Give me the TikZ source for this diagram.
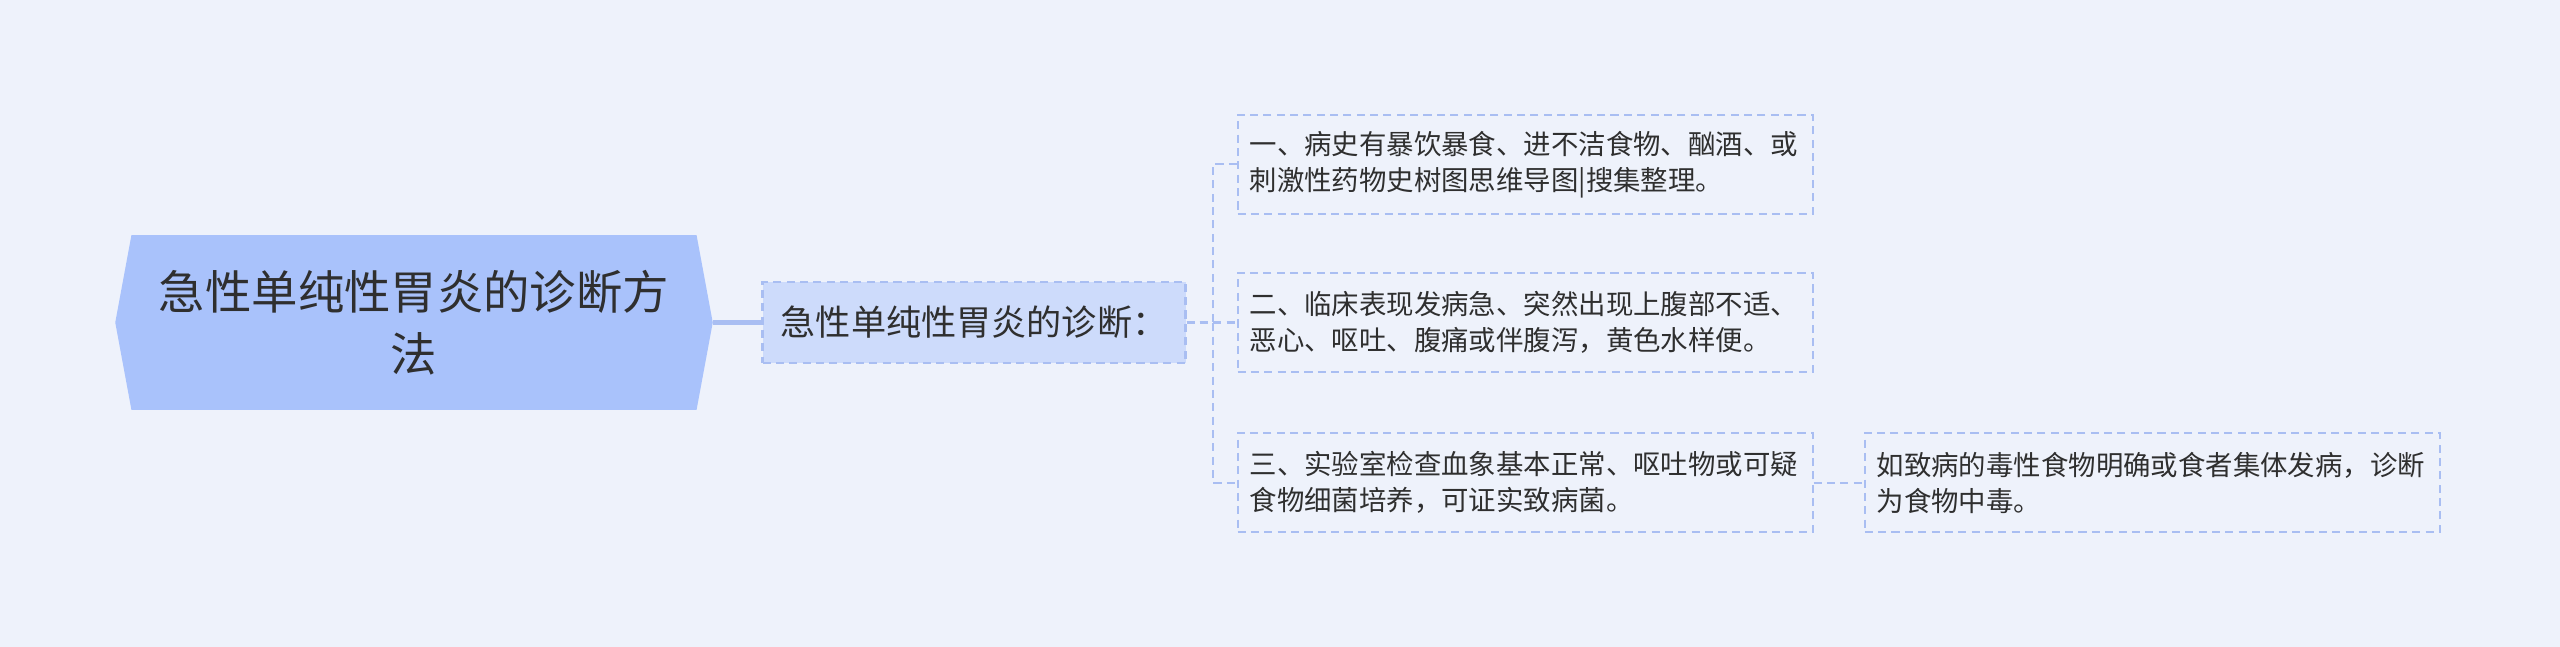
\documentclass[tikz,border=0pt]{standalone}
\usepackage{fontspec}
\setmainfont{Noto Sans CJK SC}
\usetikzlibrary{positioning, shapes.symbols}

\definecolor{bgcol}{HTML}{EEF2FB}
\definecolor{rootfill}{HTML}{A9C2FB}
\definecolor{subfill}{HTML}{CDDBFB}
\definecolor{linecol}{HTML}{A9BEF2}
\definecolor{txtcol}{HTML}{2F2F2F}

\begin{document}
\begin{tikzpicture}[%
  node distance = 0.5cm,
  rootbox/.style = {signal, signal to=west and east,
                    signal pointer angle=159,
                    fill=rootfill, text=txtcol, align=center,
                    minimum width=5.975cm, minimum height=1.747cm,
                    inner sep=0pt,
                    font=\fontsize{13.2}{17.6}\selectfont},
  subbox/.style =  {rectangle, draw=linecol, fill=subfill, thick dash,
                    text=txtcol, align=center,
                    minimum width=4.23cm, minimum height=0.81cm,
                    inner sep=0pt, font=\fontsize{10}{12}\selectfont},
  leaf/.style =    {rectangle, draw=linecol, thick dash, text=txtcol,
                   align=left, text width=5.51cm,
                   minimum height=0.99cm, inner sep=0.12cm,
                   font=\fontsize{7.8}{10.2}\selectfont},
  thick dash/.style = {line width=0.6pt, dash pattern=on 2.3pt off 1.5pt},
  link/.style =    {draw=linecol, line width=0.6pt,
                    dash pattern=on 2.3pt off 1.5pt}
]

  % canvas
  \fill[bgcol] (0,0) rectangle (25.6,-6.47);
  \useasboundingbox (0,0) rectangle (25.6,-6.47);

  \node[rootbox] (root) at (4.14,-3.225)
       {急性单纯性胃炎的诊断方\\法};
  \node[subbox, right=0.48cm of root] (diag) {急性单纯性胃炎的诊断：};

  \node[leaf, right=0.5cm of diag] (clin)
       {二、临床表现发病急、突然出现上腹部不适、\\恶心、呕吐、腹痛或伴腹泻，黄色水样便。};
  \node[leaf, above=0.57cm of clin] (hist)
       {一、病史有暴饮暴食、进不洁食物、酗酒、或\\刺激性药物史树图思维导图|搜集整理。};
  \node[leaf, below=0.59cm of clin] (lab)
       {三、实验室检查血象基本正常、呕吐物或可疑\\食物细菌培养，可证实致病菌。};
  \node[leaf, right=0.5cm of lab] (pois)
       {如致病的毒性食物明确或食者集体发病，诊断\\为食物中毒。};

  % Connections
  \draw[linecol, line width=1.2pt] (root.east) -- (diag.west);
  \foreach \leafname in {hist, clin, lab}
    \draw[link] (diag.east) -- ++(0.26,0) |- (\leafname.west);
  \draw[link] (lab.east) -- (pois.west);

\end{tikzpicture}
\end{document}
